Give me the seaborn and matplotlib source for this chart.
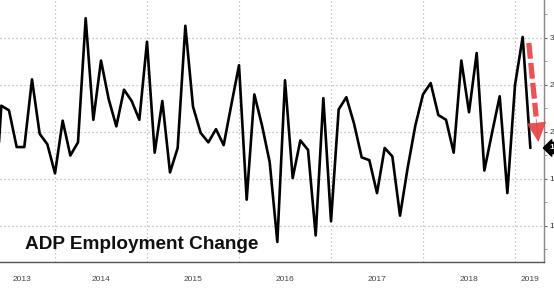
import matplotlib
matplotlib.use("Agg")
import matplotlib.pyplot as plt
import matplotlib.transforms as mtransforms
import numpy as np
import pandas as pd
import seaborn as sns

# ---- data (ADP monthly employment change, thousands) ----
start_month = "2013-04"
end_month = "2019-02"
values_2013 = [100, 228, 223, 184, 184, 256, 198, 187, 156]          # Apr..Dec
values_2014 = [212, 175, 189, 321, 213, 276, 235, 206, 245, 233, 213, 296]
values_2015 = [178, 233, 157, 183, 313, 227, 199, 189, 203, 186, 229, 271]
values_2016 = [128, 240, 207, 168, 83, 255, 151, 191, 181, 90, 236, 105]
values_2017 = [224, 237, 209, 173, 170, 135, 183, 174, 111, 162, 207, 240]
values_2018 = [252, 218, 213, 178, 276, 221, 284, 159, 199, 238, 135, 250]
values_2019 = [301, 183]                                              # Jan, Feb
year_labels = ["2013", "2014", "2015", "2016", "2017", "2018", "2019"]
y_ticks = [100, 150, 200, 250, 300]
y_minor = [75, 125, 175, 225, 275, 325]
title = "ADP Employment Change"
last_label = "183"

values = (values_2013 + values_2014 + values_2015 + values_2016
          + values_2017 + values_2018 + values_2019)
periods = pd.period_range(start_month, end_month, freq="M")
ref = pd.Period("2013-12", freq="M")
t = np.array([(p - ref).n for p in periods], dtype=float)
df = pd.DataFrame({"t": t, "value": values})

sns.set_style("white")
plt.rcParams["font.family"] = ["Liberation Sans", "DejaVu Sans"]

fig = plt.figure(figsize=(5.54, 2.90), dpi=100)
W, H = 554, 290
ax = fig.add_axes([0, 28 / H, 544 / W, 262 / H])

sns.lineplot(data=df, x="t", y="value", color="black", lw=1.9, ax=ax)

xlim = (-55 / 7.667, (544 - 55) / 7.667)
ax.set_xlim(*xlim)
ax.set_ylim(61.7, 340.4)

# spines
for s in ["top", "left"]:
    ax.spines[s].set_visible(False)
ax.spines["bottom"].set_color("#555555")
ax.spines["bottom"].set_linewidth(1.0)
ax.spines["right"].set_color("#888888")
ax.spines["right"].set_linewidth(1.0)

# x ticks: year boundaries (major) and quarters (minor)
majors = [0, 12, 24, 36, 48, 60]
minors = [m for m in np.arange(-6, 64, 3) if m not in majors]
ax.set_xticks(majors)
ax.set_xticks(minors, minor=True)
ax.set_xticklabels([])
ax.tick_params(axis="x", which="major", direction="out", length=17, width=0.8,
               color="#9a9a9a")
ax.tick_params(axis="x", which="minor", direction="in", length=2.2, width=0.8,
               color="#555555")

# y ticks on right
ax.yaxis.tick_right()
ax.set_yticks(y_ticks)
ax.set_yticks(y_minor, minor=True)
ax.set_yticklabels([str(v) for v in y_ticks])
ax.tick_params(axis="y", which="major", direction="out", length=2.5, width=0.8,
               color="#666666", labelsize=6, labelcolor="#333333", pad=1.5)
ax.tick_params(axis="y", which="minor", direction="out", length=1.8, width=0.6,
               color="#888888")
ax.set_xlabel("")
ax.set_ylabel("")

# dotted grid
ax.grid(True, which="major", axis="both", linestyle=(0, (1, 2.2)),
        color="#b5b5b5", lw=0.9)
ax.set_axisbelow(True)

# year labels centered in visible span
trans = mtransforms.blended_transform_factory(ax.transData, ax.transAxes)
for i, lab in enumerate(year_labels):
    a = -12 + 12 * i
    b = a + 12
    a2, b2 = max(a, xlim[0]), min(b, xlim[1])
    ax.text((a2 + b2) / 2 - (0.7 if i == 0 else 0), -0.066, lab,
            transform=trans, ha="center", va="center",
            fontsize=6, color="#444444")

# title inside chart
ax.text(25 / 544, (262 - 249) / 262, title, transform=ax.transAxes,
        fontsize=13.7, fontweight="bold", color="#111111",
        ha="left", va="baseline")

# last-value tag on right axis
ax.annotate(last_label, xy=(1.0, values[-1]),
            xycoords=("axes fraction", "data"),
            xytext=(4, 0), textcoords="offset points",
            ha="left", va="center", fontsize=6, color="white",
            fontweight="bold", annotation_clip=False,
            bbox=dict(boxstyle="larrow,pad=0.25", fc="black", ec="black"))

# red dashed arrow
red = "#e63b3d"
ax.plot([61.8, 62.75], [294.7, 216.5], color=red, lw=3.8, alpha=0.88,
        dashes=(3.0, 0.8), solid_capstyle="butt", dash_capstyle="butt")
ax.annotate("", xy=(63.05, 189.5), xytext=(62.75, 214),
            arrowprops=dict(arrowstyle="-|>,head_width=0.65,head_length=1.3",
                            color=red, lw=0.5, alpha=0.88,
                            shrinkA=0, shrinkB=0),
            annotation_clip=False)

fig.savefig("out.png", dpi=100)
